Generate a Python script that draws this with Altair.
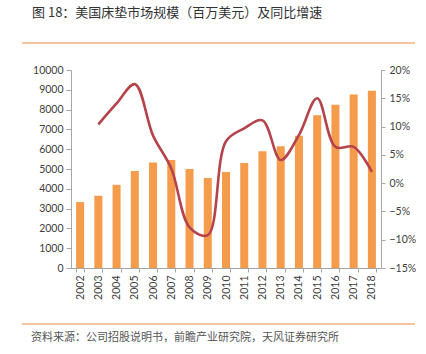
import altair as alt
import pandas as pd

years = [str(y) for y in range(2002, 2019)]
market_size = [3330, 3650, 4200, 4900, 5330, 5450, 5000, 4550, 4850, 5300,
               5900, 6150, 6680, 7720, 8240, 8760, 8950]
growth_years = [str(y) for y in range(2003, 2019)]
growth_pct = [10.4, 14.1, 17.5, 8.4, 2.6, -7.8, -9.2, 7.4, 9.7, 11.1,
              4.1, 8.5, 15.0, 6.4, 6.4, 2.0]

title_text = "图 18：美国床垫市场规模（百万美元）及同比增速"
source_text = "资料来源：公司招股说明书，前瞻产业研究院，天风证券研究所"

bars_df = pd.DataFrame({"year": years, "size": market_size})
line_df = pd.DataFrame({"year": growth_years, "g": [v / 100 for v in growth_pct]})

AX = "#A6A6A6"
LBL = "#404040"
FONT = "Lato"

xenc = alt.X("year:N", sort=years, title=None,
             scale=alt.Scale(domain=years, paddingInner=0.56, paddingOuter=0.28),
             axis=alt.Axis(labelAngle=-90, labelFontSize=10.5, labelColor=LBL, labelFont=FONT,
                           domainColor=AX, tickColor=AX, tickBand="extent", tickSize=4,
                           labelPadding=3, labelBaseline="middle", labelAlign="right"))

bars = alt.Chart(bars_df).mark_bar(color="#F59B4C").encode(
    x=xenc,
    y=alt.Y("size:Q", title=None,
            scale=alt.Scale(domain=[0, 10000], nice=False),
            axis=alt.Axis(values=list(range(0, 10001, 1000)), format="d", grid=False,
                          labelFontSize=10.5, labelColor=LBL, labelFont=FONT,
                          domainColor=AX, tickColor=AX, tickSize=5, labelPadding=3)),
)

line = alt.Chart(line_df).mark_line(color="#B5434B", strokeWidth=2.6,
                                    interpolate="catmull-rom").encode(
    x=alt.X("year:N", sort=years, scale=alt.Scale(domain=years)),
    y=alt.Y("g:Q", title=None,
            scale=alt.Scale(domain=[-0.15, 0.20], nice=False),
            axis=alt.Axis(orient="right", format=".0%",
                          values=[-0.15, -0.10, -0.05, 0, 0.05, 0.10, 0.15, 0.20],
                          grid=False, labelFontSize=10.5, labelColor=LBL, labelFont=FONT,
                          domainColor=AX, tickColor=AX, tickSize=4, labelPadding=4)),
)

deco_df = pd.DataFrame({"t": [title_text], "s": [source_text]})

title_mark = alt.Chart(deco_df).mark_text(
    align="left", baseline="middle", fontSize=13, font="Noto Sans CJK SC",
    color="#333333").encode(text="t:N", x=alt.value(-39), y=alt.value(-57))

source_mark = alt.Chart(deco_df).mark_text(
    align="left", baseline="middle", fontSize=11, font="Noto Sans CJK SC",
    color="#555555").encode(text="s:N", x=alt.value(-40), y=alt.value(268))

top_rule = alt.Chart(deco_df).mark_rule(color="#F5B183", strokeWidth=1.5).encode(
    x=alt.value(-49), x2=alt.value(344), y=alt.value(-27))
bottom_rule = alt.Chart(deco_df).mark_rule(color="#F5B183", strokeWidth=1.5).encode(
    x=alt.value(-49), x2=alt.value(344), y=alt.value(254))

chart = alt.layer(bars, line, title_mark, source_mark, top_rule, bottom_rule).resolve_scale(
    y="independent"
).properties(
    width=310, height=198,
    autosize=alt.AutoSizeParams(type="none"),
    padding={"left": 71, "top": 70, "right": 45, "bottom": 86},
    background="white",
).configure_view(stroke=None)

chart.save("out.html", embed_options={"renderer": "svg", "actions": False})
